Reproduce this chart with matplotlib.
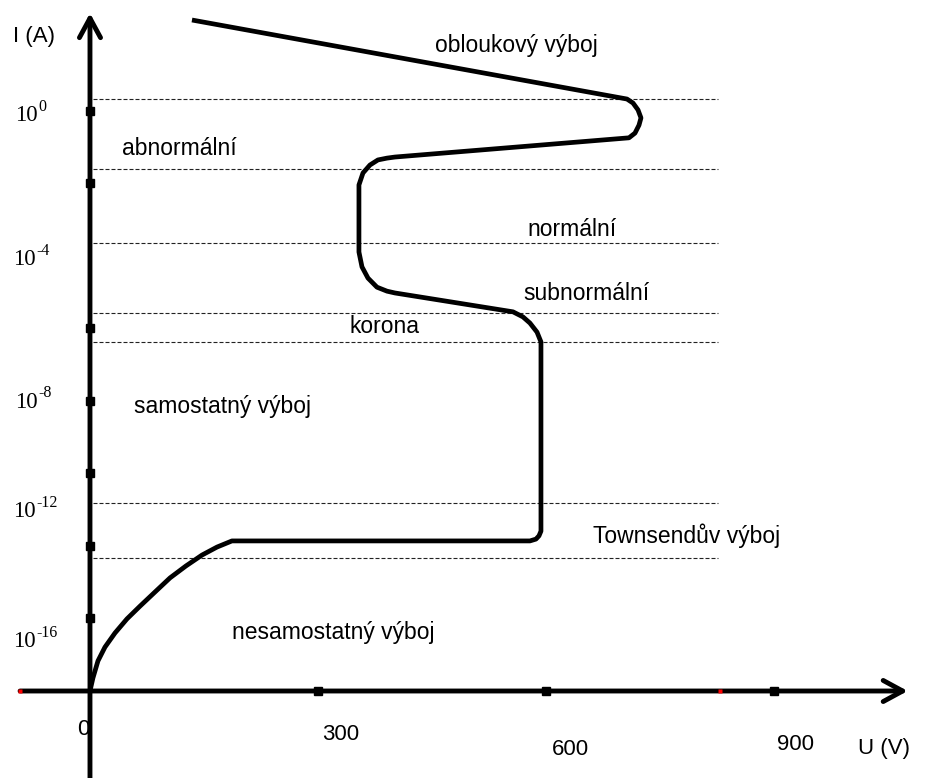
import matplotlib
matplotlib.use("Agg")
import matplotlib.pyplot as plt

plt.rcParams['font.family'] = ['Liberation Sans', 'DejaVu Sans']

# Curve: U in volts, log10 of I in amperes (schematic)
curve_u = [0, 3.9, 10.5, 19.7, 32.9, 48.7, 65.8, 85.5, 105.3, 126.3, 147.4,
           167.1, 186.8, 578.9, 586.8, 590.8, 593.4, 593.4, 588.2, 578.9,
           569.7, 556.6, 401.3, 390.8, 377.6, 365.8, 357.9, 353.9, 353.9,
           359.2, 368.4, 378.9, 390.8, 401.3, 709.2, 717.1, 722.4, 725.0,
           721.1, 714.5, 706.6, 134.2]
curve_logi = [-16.0, -15.64, -15.17, -14.79, -14.40, -14.01, -13.66, -13.27,
              -12.88, -12.55, -12.25, -12.03, -11.86, -11.86, -11.81, -11.72,
              -11.59, -6.37, -6.10, -5.85, -5.68, -5.54, -5.02, -4.97, -4.86,
              -4.61, -4.30, -3.89, -2.04, -1.71, -1.49, -1.35, -1.30, -1.27,
              -0.74, -0.61, -0.39, -0.19, 0.03, 0.22, 0.33, 2.51]

# region boundaries (dashed)
bounds_logi = [0.33, -1.60, -3.64, -5.57, -6.37, -10.81, -12.33]
bounds_u = [3.9, 826.3]

# ticks
xtick_u = [300, 600, 900]
xtick_labels = ['300', '600', '900']
ytick_logi = [0, -2, -6, -8, -10, -12, -14]
ylabel_exp = ['0', '-4', '-8', '-12', '-16']

region_names = ['obloukový výboj', 'abnormální', 'normální', 'subnormální',
                'korona', 'samostatný výboj', 'Townsendův výboj',
                'nesamostatný výboj']

# layout (text anchor positions, left/baseline)
region_pos = [(453.9, 1.63), (42.1, -1.21), (575.0, -3.45), (569.7, -5.21),
              (342.1, -6.12), (57.9, -8.33), (661.8, -11.92), (186.8, -14.57)]
xlabel_pos = [(305.3, -17.35), (607.9, -17.77), (903.9, -17.63)]
ylabel_pos = [(-98.7, -0.28), (-101.3, -4.25), (-98.7, -8.19),
              (-101.3, -11.2), (-101.3, -14.79)]

fig = plt.figure(figsize=(9.3, 7.78), dpi=100)
ax = fig.add_axes([0, 0, 1, 1])
ax.set_xlim(-118.4, 1105.3)
ax.set_ylim(-18.40, 3.062)
ax.axis('off')

# dashed region lines
for b in bounds_logi:
    ax.plot(bounds_u, [b, b], color='#222222', lw=0.8,
            dashes=(3.6, 1.8))

# axes with arrows
arrow = dict(arrowstyle='->,head_length=0.7,head_width=0.38', lw=3.5,
             color='black', mutation_scale=20, shrinkA=0, shrinkB=0)
ax.annotate('', xy=(0, 2.70), xytext=(0, -18.6), arrowprops=arrow)
ax.annotate('', xy=(1076, -16.0), xytext=(-92, -16.0), arrowprops=arrow)

# tick squares
ax.plot(xtick_u, [-16.0] * len(xtick_u), 's', color='black', ms=5.5,
        zorder=5)
ax.plot([0] * len(ytick_logi), ytick_logi, 's', color='black', ms=5.5,
        zorder=5)
ax.plot([-92, 828.9], [-16.0, -16.0], 's', color='red', ms=3.5, mec='none',
        zorder=5)

# characteristic
ax.plot(curve_u, curve_logi, color='black', lw=3.4,
        solid_joinstyle='round', solid_capstyle='butt')

# texts
for name, (u, li) in zip(region_names, region_pos):
    ax.text(u, li, name, fontsize=16.5, ha='left', va='baseline')

for lab, (u, li) in zip(xtick_labels, xlabel_pos):
    ax.text(u, li, lab, fontsize=16, ha='left', va='baseline')
ax.text(-17.1, -17.21, '0', fontsize=16, ha='left', va='baseline')
ax.text(1010.5, -17.74, 'U (V)', fontsize=16, ha='left', va='baseline')
ax.text(-101.3, 1.90, 'I (A)', fontsize=16, ha='left', va='baseline')

for e, (u, li) in zip(ylabel_exp, ylabel_pos):
    ax.text(u, li, '10', fontsize=16.5, family='Liberation Serif',
            ha='left', va='baseline')
    ax.annotate(e, xy=(u, li), xytext=(16.5, 7.5), textcoords='offset points',
                fontsize=11.5, family='Liberation Serif', ha='left',
                va='baseline')

fig.savefig('out.png', dpi=100, facecolor='white')
